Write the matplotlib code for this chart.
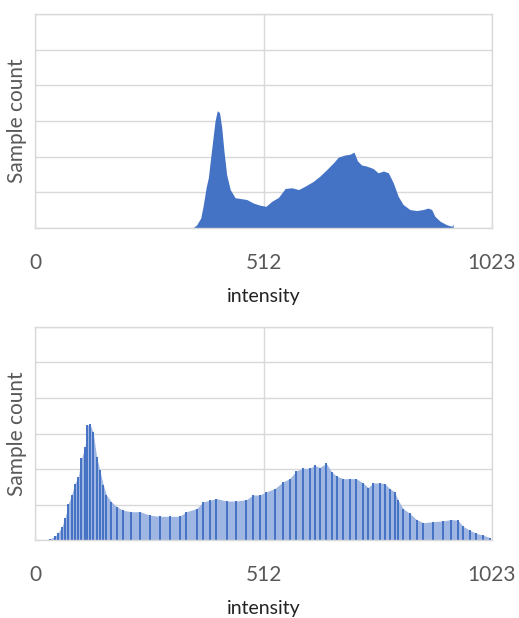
import matplotlib.pyplot as plt
import numpy as np

# values (intensity, sample count in grid units)
top_x = [353, 362, 371, 377, 383, 388, 395, 403, 408, 413, 418, 423, 429, 437,
         448, 459, 474, 489, 504, 517, 530, 545, 560, 575, 590, 604, 623, 638,
         653, 668, 679, 694, 705, 714, 722, 731, 742, 757, 768, 780, 791, 802,
         813, 824, 839, 854, 869, 880, 888, 895, 907, 922, 933, 936]
top_y = [0.0, 0.09, 0.28, 0.66, 1.13, 1.41, 2.16, 3.0, 3.29, 3.24, 2.82, 2.16,
         1.50, 1.08, 0.85, 0.83, 0.80, 0.70, 0.64, 0.61, 0.75, 0.86, 1.11, 1.13,
         1.08, 1.17, 1.31, 1.46, 1.64, 1.83, 1.99, 2.05, 2.07, 2.13, 1.88, 1.77,
         1.74, 1.67, 1.55, 1.60, 1.55, 1.27, 0.89, 0.66, 0.52, 0.49, 0.52, 0.56,
         0.52, 0.33, 0.19, 0.09, 0.05, 0.11]

bot_x = [22, 34, 45, 52, 60, 67, 75, 82, 89, 97, 104, 112, 117, 123, 130, 138,
         145, 153, 160, 171, 183, 198, 216, 235, 257, 280, 302, 324, 339, 362,
         377, 391, 406, 429, 451, 473, 488, 503, 518, 537, 555, 570, 585, 600,
         615, 626, 637, 652, 664, 675, 690, 705, 719, 734, 746, 757, 772, 783,
         794, 805, 813, 824, 839, 854, 869, 891, 913, 932, 947, 958, 973, 988,
         1003, 1018]
bot_y = [0.0, 0.04, 0.11, 0.21, 0.37, 0.61, 1.03, 1.27, 1.59, 1.78, 2.30, 2.62,
         3.23, 3.26, 3.05, 2.34, 1.97, 1.55, 1.27, 1.08, 0.94, 0.84, 0.80, 0.80,
         0.70, 0.67, 0.67, 0.67, 0.80, 0.89, 1.08, 1.12, 1.17, 1.10, 1.10, 1.14,
         1.27, 1.27, 1.36, 1.45, 1.64, 1.73, 1.95, 2.02, 2.02, 2.11, 2.04, 2.16,
         1.92, 1.80, 1.73, 1.73, 1.73, 1.61, 1.48, 1.61, 1.61, 1.59, 1.45, 1.36,
         1.12, 0.89, 0.75, 0.58, 0.49, 0.52, 0.54, 0.58, 0.56, 0.39, 0.28, 0.19,
         0.14, 0.07]

xticks = [0, 512, 1023]
font = 'Lato'
blue = '#4472c4'
light = '#9fb6e2'
grid = '#d9d9d9'

fig = plt.figure(figsize=(5.19, 6.18), dpi=100)
ax1 = fig.add_axes([0.0674, 0.631, 0.8806, 0.346])
ax2 = fig.add_axes([0.0674, 0.126, 0.8806, 0.345])


def style(ax):
    ax.set_xlim(0, 1023)
    ax.set_ylim(0, 6)
    ax.set_xticks(xticks)
    ax.set_yticks(range(7))
    ax.set_yticklabels([])
    ax.grid(True, color=grid, linewidth=1.0)
    ax.set_axisbelow(True)
    for s in ax.spines.values():
        s.set_color(grid)
        s.set_linewidth(1.0)
    ax.tick_params(length=0, pad=18, labelsize=15, labelcolor='#595959')
    for t in ax.get_xticklabels():
        t.set_fontfamily(font)
    ax.set_xlabel('intensity', fontsize=14, family=font, color='#222222', labelpad=11)
    ax.set_ylabel('Sample count', fontsize=15, family=font, color='#595959')
    ax.yaxis.set_label_coords(-0.018, 0.5)


ax1.fill_between(top_x, top_y, 0, color=blue, linewidth=0)
style(ax1)

ax2.fill_between(bot_x, bot_y, 0, color=light, linewidth=0)
ax2.vlines(bot_x, 0, bot_y, color=blue, linewidth=1.4)
style(ax2)

fig.savefig('out.png', dpi=100)
